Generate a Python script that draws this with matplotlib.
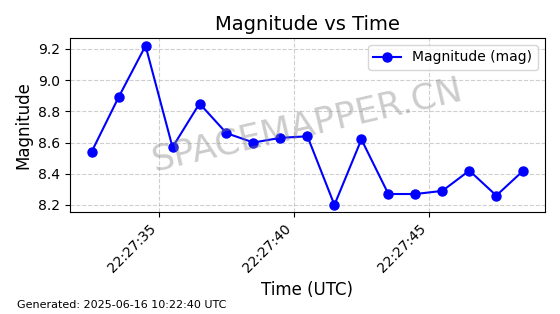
import datetime as dt
import matplotlib
matplotlib.use("Agg")
import matplotlib.pyplot as plt
import matplotlib.dates as mdates

# observation times (seconds after 22:27:00 UTC) and magnitudes
seconds = [32.5, 33.5, 34.5, 35.5, 36.5, 37.5, 38.5, 39.5, 40.5,
           41.5, 42.5, 43.5, 44.5, 45.5, 46.5, 47.5, 48.5]
magnitude = [8.54, 8.89, 9.22, 8.57, 8.85, 8.66, 8.60, 8.63, 8.64,
             8.20, 8.62, 8.27, 8.27, 8.29, 8.42, 8.26, 8.42]

base = dt.datetime(2025, 6, 15, 22, 27, 0)
times = [base + dt.timedelta(seconds=s) for s in seconds]

fig, ax = plt.subplots(figsize=(5.6, 3.14), dpi=100)
fig.subplots_adjust(left=0.125, right=0.973, top=0.879, bottom=0.325)

ax.plot(times, magnitude, color='blue', marker='o', markersize=6.5,
        linewidth=1.5, label='Magnitude (mag)')

ax.set_title('Magnitude vs Time', fontsize=14)
ax.set_xlabel('Time (UTC)', fontsize=12)
ax.set_ylabel('Magnitude', fontsize=12)
ax.xaxis.set_major_locator(mdates.SecondLocator(bysecond=range(0, 60, 5)))
ax.xaxis.set_major_formatter(mdates.DateFormatter('%H:%M:%S'))
plt.setp(ax.get_xticklabels(), rotation=45, ha='right')
ax.set_ylim(8.155, 9.27)
ax.grid(True, linestyle='--', alpha=0.6)
ax.legend(loc='upper right')

ax.text(0.5, 0.5, 'SPACEMAPPER.CN', transform=ax.transAxes, fontsize=25.5,
        color='gray', alpha=0.4, rotation=13, ha='center', va='center')

fig.text(0.03, 0.02, 'Generated: 2025-06-16 10:22:40 UTC', fontsize=8)

plt.savefig('out.png', dpi=100)
